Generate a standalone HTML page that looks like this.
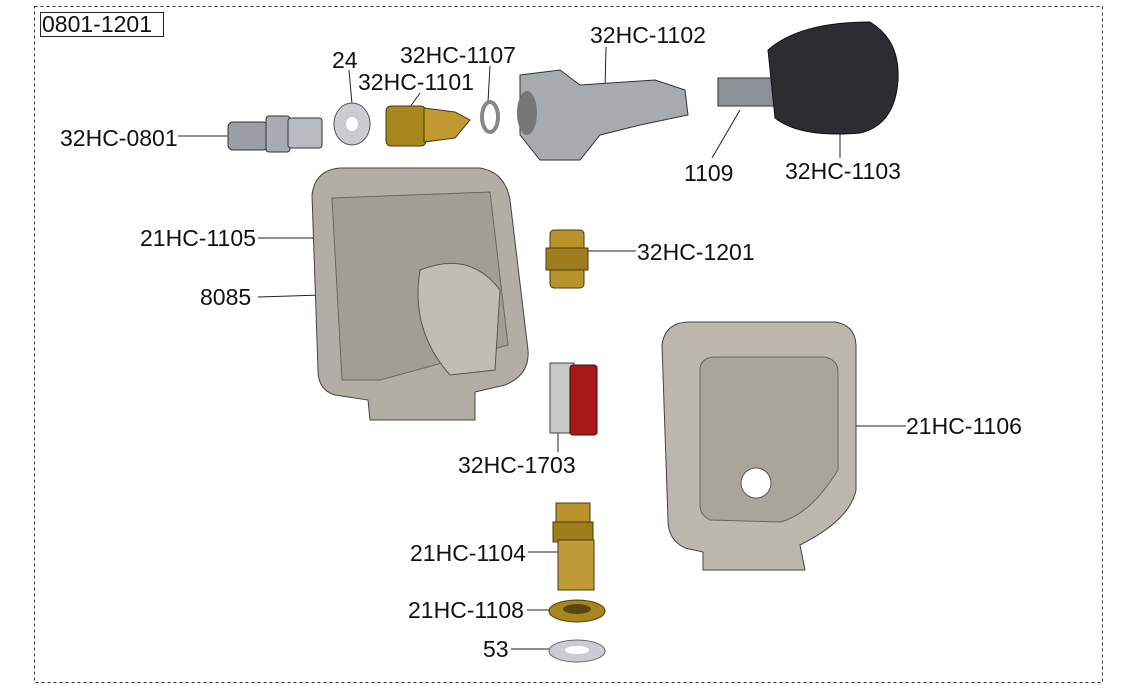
<!DOCTYPE html>
<html><head><meta charset="utf-8"><style>
html,body{margin:0;padding:0;background:#fff;}
svg{display:block;}
text{font-family:"Liberation Sans",sans-serif;font-size:23px;fill:#111;}
</style></head><body>
<svg width="1140" height="690" viewBox="0 0 1140 690" xmlns="http://www.w3.org/2000/svg">
<rect x="34.5" y="6.5" width="1068" height="676" fill="none" stroke="#333" stroke-dasharray="3,3"/>
<rect x="40.5" y="12.5" width="123" height="24" fill="#fff" stroke="#222"/>
<text x="42" y="32">0801-1201</text>

<g stroke="#222" stroke-width="1" fill="none">
<line x1="178" y1="136" x2="228" y2="136"/>
<line x1="349" y1="70" x2="352" y2="104"/>
<line x1="490" y1="66" x2="488" y2="102"/>
<line x1="420" y1="93" x2="410" y2="107"/>
<line x1="606" y1="47" x2="605" y2="90"/>
<line x1="712" y1="158" x2="740" y2="110"/>
<line x1="840" y1="158" x2="840" y2="132"/>
<line x1="258" y1="238" x2="320" y2="238"/>
<line x1="258" y1="297" x2="385" y2="293"/>
<line x1="584" y1="251" x2="636" y2="251"/>
<line x1="838" y1="426" x2="906" y2="426"/>
<line x1="558" y1="423" x2="558" y2="452"/>
<line x1="528" y1="552" x2="560" y2="552"/>
<line x1="527" y1="610" x2="553" y2="610"/>
<line x1="511" y1="649" x2="552" y2="649"/>
</g>

<rect x="228" y="122" width="40" height="28" rx="5" fill="#9a9ea4" stroke="#333"/>
<rect x="266" y="116" width="24" height="36" rx="3" fill="#a8acb2" stroke="#333"/>
<rect x="288" y="118" width="34" height="30" rx="3" fill="#b8bcc0" stroke="#333"/>
<ellipse cx="352" cy="124" rx="18" ry="21" fill="#c9cdd2" stroke="#555"/>
<ellipse cx="352" cy="124" rx="6" ry="7" fill="#fff"/>
<rect x="386" y="106" width="40" height="40" rx="5" fill="#a8861e" stroke="#4a3a10"/>
<path d="M424 108 L455 112 L470 120 L455 138 L424 142 Z" fill="#c09a30" stroke="#4a3a10"/>
<ellipse cx="490" cy="117" rx="8" ry="15" fill="none" stroke="#888" stroke-width="4"/>
<path d="M520 75 L560 70 L580 85 L655 80 L685 90 L688 115 L640 125 L600 135 L580 160 L540 160 L520 135 Z" fill="#a8abae" stroke="#333"/>
<ellipse cx="527" cy="113" rx="10" ry="22" fill="#777"/>
<rect x="718" y="78" width="70" height="28" fill="#8b9099" stroke="#333"/>
<path d="M768 50 Q800 22 870 22 Q900 40 898 80 Q895 125 860 133 Q800 138 775 118 Z" fill="#2b2d30" stroke="#111"/>
<path d="M312 195 Q315 170 340 168 L480 168 Q505 172 510 200 L528 350 Q530 375 505 385 L475 392 L475 420 L370 420 L368 400 L335 395 Q318 390 318 370 Z" fill="#b3aea5" stroke="#444"/>
<path d="M332 198 L490 192 L508 345 L380 380 L342 380 Z" fill="#a39e95" stroke="#666"/>
<path d="M420 270 Q470 250 500 290 L495 370 L450 375 Q410 330 420 270 Z" fill="#c2bdb4" stroke="#555"/>
<rect x="550" y="230" width="34" height="58" rx="4" fill="#b8922a" stroke="#4a3a10"/>
<rect x="546" y="248" width="42" height="22" fill="#a07d1c" stroke="#4a3a10"/>
<rect x="550" y="363" width="24" height="70" fill="#c8c8c8" stroke="#444"/>
<rect x="570" y="365" width="27" height="70" rx="3" fill="#a81818" stroke="#4a0808"/>
<path d="M662 345 Q665 322 690 322 L835 322 Q855 325 856 345 L856 490 Q850 520 800 545 L805 570 L703 570 L703 552 L685 548 Q668 540 668 520 Z" fill="#bdb8ae" stroke="#444"/>
<path d="M700 368 Q702 357 715 357 L825 357 Q838 360 838 372 L838 470 Q810 515 780 522 L710 520 Q700 515 700 505 Z" fill="#aaa59b" stroke="#666"/>
<circle cx="756" cy="483" r="15" fill="#fff" stroke="#555"/>
<rect x="556" y="503" width="34" height="20" fill="#b8922a" stroke="#4a3a10"/>
<rect x="553" y="522" width="40" height="20" fill="#a07d1c" stroke="#4a3a10"/>
<rect x="558" y="540" width="36" height="50" fill="#bf9a36" stroke="#4a3a10"/>
<ellipse cx="577" cy="611" rx="28" ry="11" fill="#a8861e" stroke="#4a3a10"/>
<ellipse cx="577" cy="609" rx="14" ry="5" fill="#5a4612"/>
<ellipse cx="577" cy="651" rx="28" ry="11" fill="#c9cdd2" stroke="#666"/>
<ellipse cx="577" cy="650" rx="12" ry="4" fill="#fff"/>

<text x="60" y="146">32HC-0801</text>
<text x="332" y="68">24</text>
<text x="400" y="63">32HC-1107</text>
<text x="358" y="90">32HC-1101</text>
<text x="590" y="43">32HC-1102</text>
<text x="684" y="181">1109</text>
<text x="785" y="179">32HC-1103</text>
<text x="140" y="246">21HC-1105</text>
<text x="200" y="305">8085</text>
<text x="637" y="260">32HC-1201</text>
<text x="906" y="434">21HC-1106</text>
<text x="458" y="473">32HC-1703</text>
<text x="410" y="561">21HC-1104</text>
<text x="408" y="618">21HC-1108</text>
<text x="483" y="657">53</text>
</svg>
</body></html>
